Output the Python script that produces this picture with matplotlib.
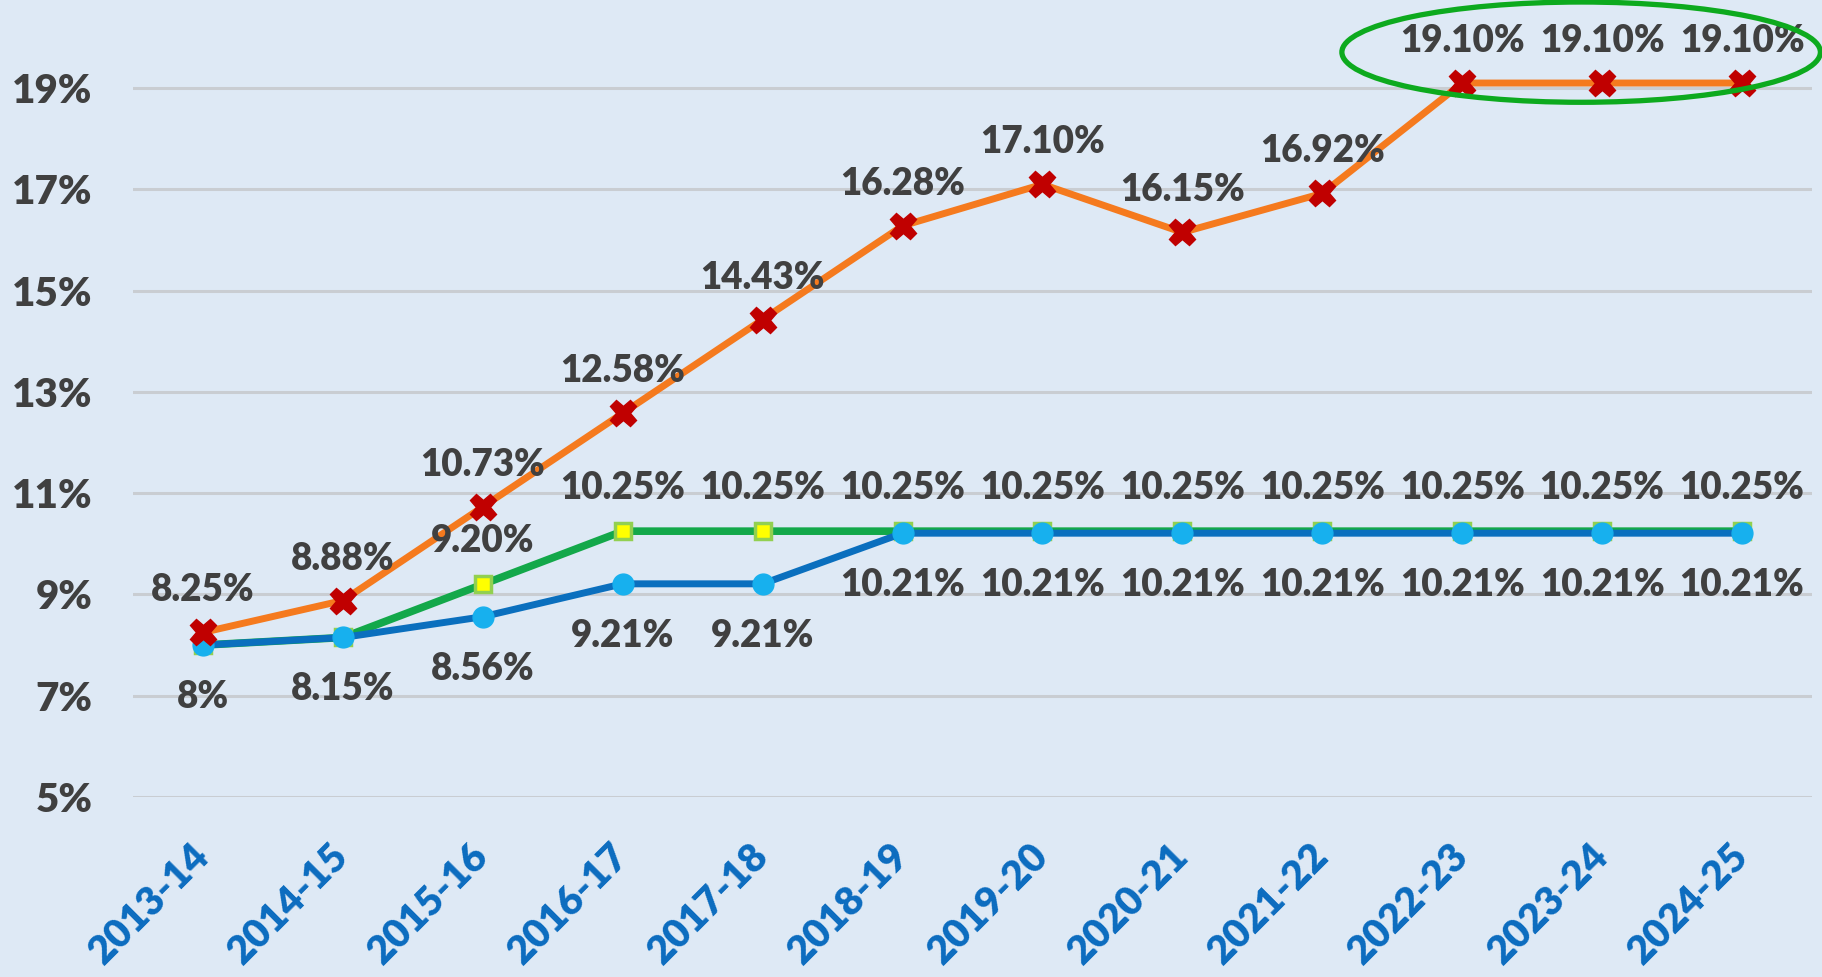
import matplotlib
matplotlib.use("Agg")
import matplotlib.pyplot as plt
from matplotlib.patches import Ellipse

categories = ["2013-14", "2014-15", "2015-16", "2016-17", "2017-18", "2018-19",
              "2019-20", "2020-21", "2021-22", "2022-23", "2023-24", "2024-25"]
orange_vals = [8.25, 8.88, 10.73, 12.58, 14.43, 16.28, 17.10, 16.15, 16.92, 19.10, 19.10, 19.10]
green_vals = [8.00, 8.15, 9.20, 10.25, 10.25, 10.25, 10.25, 10.25, 10.25, 10.25, 10.25, 10.25]
blue_vals = [8.00, 8.15, 8.56, 9.21, 9.21, 10.21, 10.21, 10.21, 10.21, 10.21, 10.21, 10.21]
orange_labels = ["8.25%", "8.88%", "10.73%", "12.58%", "14.43%", "16.28%", "17.10%",
                 "16.15%", "16.92%", "19.10%", "19.10%", "19.10%"]
green_labels = [None, None, "9.20%", "10.25%", "10.25%", "10.25%", "10.25%", "10.25%",
                "10.25%", "10.25%", "10.25%", "10.25%"]
blue_labels = ["8%", "8.15%", "8.56%", "9.21%", "9.21%", "10.21%", "10.21%", "10.21%",
               "10.21%", "10.21%", "10.21%", "10.21%"]
yticks = [5, 7, 9, 11, 13, 15, 17, 19]
ytick_labels = ["5%", "7%", "9%", "11%", "13%", "15%", "17%", "19%"]

plt.rcParams['font.family'] = ['Lato', 'DejaVu Sans']
BG = '#DEE9F5'
TXT = '#404040'

fig = plt.figure(figsize=(18.22, 9.77), dpi=100, facecolor=BG)
ax = fig.add_axes([133/1822, 1 - 797/977, (1812-133)/1822, 797/977])
ax.set_facecolor(BG)
x = list(range(len(categories)))

ax.plot(x, green_vals, color='#13A84A', lw=5.5, marker='s', ms=12,
        mfc='#FFFF00', mec='#92D050', mew=2.5, zorder=3, solid_capstyle='round')
ax.plot(x, blue_vals, color='#0A6FBE', lw=5, marker='o', ms=15,
        mfc='#17B0EE', mec='#17B0EE', zorder=4)
ax.plot(x, orange_vals, color='#F57A1E', lw=5, marker='X', ms=19,
        mfc='#C00000', mec='#C00000', zorder=5)

lab_kw = dict(textcoords='offset pixels', ha='center', va='center',
              fontsize=26.5, fontweight='heavy', color=TXT, zorder=6)
for xi, v, t in zip(x, orange_vals, orange_labels):
    ax.annotate(t, (xi, v), xytext=(0, 42), **lab_kw)
for xi, v, t in zip(x, green_vals, green_labels):
    if t:
        ax.annotate(t, (xi, v), xytext=(0, 43), **lab_kw)
for xi, v, t in zip(x, blue_vals, blue_labels):
    ax.annotate(t, (xi, v), xytext=(0, -52), **lab_kw)

ax.set_xlim(-0.5, len(categories) - 0.5)
ax.set_ylim(5, 20.74)
ax.set_yticks(yticks)
ax.set_yticklabels(ytick_labels, fontsize=29, fontweight='heavy', color=TXT)
ax.set_xticks(x)
ax.set_xticklabels(categories, rotation=45, ha='right', va='center',
                   rotation_mode='anchor', fontsize=28.5, fontweight='heavy', color='#0B6CBF')
ax.tick_params(axis='both', length=0)
ax.tick_params(axis='y', pad=29)
ax.tick_params(axis='x', pad=38)
ax.grid(axis='y', color='#C9CDD2', lw=2.2, zorder=0)
for s in ax.spines.values():
    s.set_visible(False)

ell = Ellipse((9.85, 19.71), width=3.42, height=1.98, fill=False,
              edgecolor='#0DAA1E', lw=3.8, zorder=7, clip_on=False)
ax.add_patch(ell)

fig.savefig('out.png', dpi=100, facecolor=BG)
